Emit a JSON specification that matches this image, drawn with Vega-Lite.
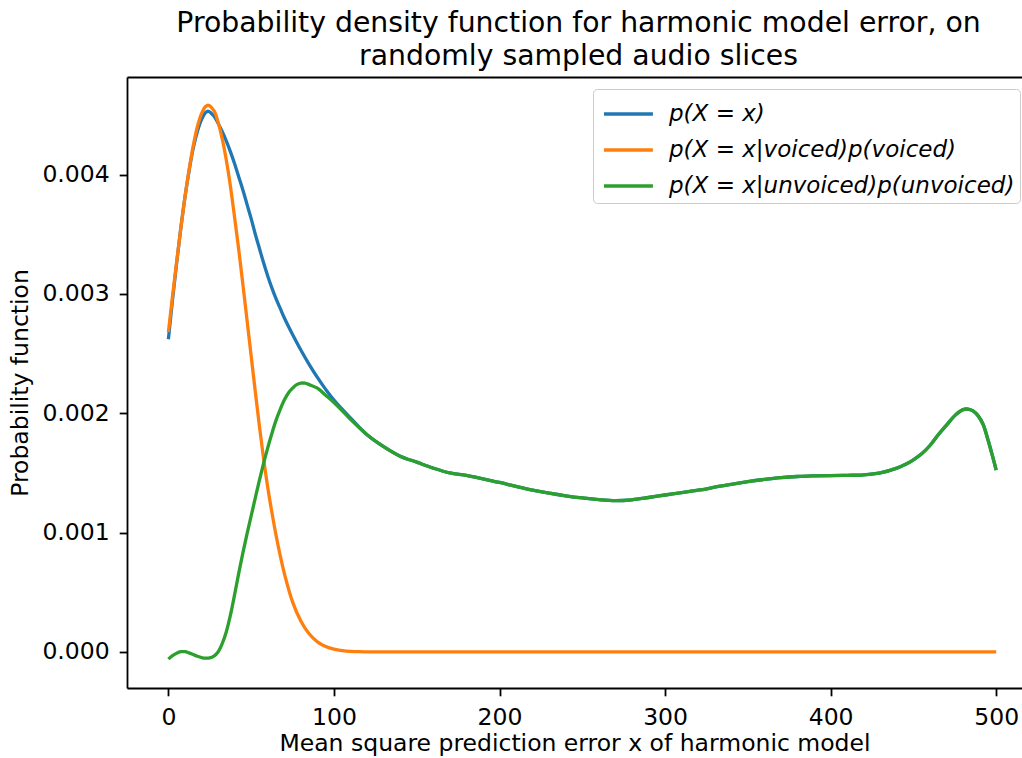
{
  "$schema": "https://vega.github.io/schema/vega-lite/v6.json",
  "width": 895,
  "height": 611,
  "autosize": {"type": "none"},
  "padding": {"left": 127, "top": 77, "right": 0, "bottom": 70},
  "background": "white",
  "config": {
    "view": {"stroke": null},
    "font": "DejaVu Sans",
    "axis": {
      "domainColor": "black", "domainWidth": 1.8, "tickColor": "black", "tickWidth": 1.8, "tickSize": 7.8,
      "labelFont": "DejaVu Sans", "labelFontSize": 23.5, "labelColor": "black", "labelPadding": 10,
      "titleFont": "DejaVu Sans", "titleFontSize": 23.5, "titleColor": "black", "titleFontWeight": "normal",
      "grid": false, "labelFlush": false
    }
  },
  "title": {
    "text": ["Probability density function for harmonic model error, on", "randomly sampled audio slices"],
    "font": "DejaVu Sans", "fontSize": 28.3, "fontWeight": "normal", "color": "black",
    "anchor": "middle", "lineHeight": 33, "offset": 6, "dx": 4
  },
  "datasets": {
    "curves": [
      {"s": "p(X = x)", "x": 0, "y": 0.00262},
      {"s": "p(X = x)", "x": 2.5, "y": 0.00295},
      {"s": "p(X = x)", "x": 5, "y": 0.00326},
      {"s": "p(X = x)", "x": 7.5, "y": 0.00355},
      {"s": "p(X = x)", "x": 10, "y": 0.00381},
      {"s": "p(X = x)", "x": 12.5, "y": 0.00403},
      {"s": "p(X = x)", "x": 15, "y": 0.00422},
      {"s": "p(X = x)", "x": 17.5, "y": 0.00436},
      {"s": "p(X = x)", "x": 20, "y": 0.00446},
      {"s": "p(X = x)", "x": 22.5, "y": 0.00452},
      {"s": "p(X = x)", "x": 24.2, "y": 0.00453},
      {"s": "p(X = x)", "x": 27.5, "y": 0.00449},
      {"s": "p(X = x)", "x": 30, "y": 0.00443},
      {"s": "p(X = x)", "x": 32.5, "y": 0.00436},
      {"s": "p(X = x)", "x": 35, "y": 0.00428},
      {"s": "p(X = x)", "x": 37.5, "y": 0.00419},
      {"s": "p(X = x)", "x": 40, "y": 0.00409},
      {"s": "p(X = x)", "x": 42.5, "y": 0.00398},
      {"s": "p(X = x)", "x": 45, "y": 0.00387},
      {"s": "p(X = x)", "x": 47.5, "y": 0.00375},
      {"s": "p(X = x)", "x": 50, "y": 0.00363},
      {"s": "p(X = x)", "x": 52.5, "y": 0.0035},
      {"s": "p(X = x)", "x": 55, "y": 0.00338},
      {"s": "p(X = x)", "x": 57.5, "y": 0.00326},
      {"s": "p(X = x)", "x": 60, "y": 0.00315},
      {"s": "p(X = x)", "x": 62.5, "y": 0.00305},
      {"s": "p(X = x)", "x": 65, "y": 0.00296},
      {"s": "p(X = x)", "x": 67.5, "y": 0.00288},
      {"s": "p(X = x)", "x": 70, "y": 0.0028},
      {"s": "p(X = x)", "x": 75, "y": 0.00266},
      {"s": "p(X = x)", "x": 80, "y": 0.00253},
      {"s": "p(X = x)", "x": 85, "y": 0.00241},
      {"s": "p(X = x)", "x": 90, "y": 0.0023},
      {"s": "p(X = x)", "x": 95, "y": 0.0022},
      {"s": "p(X = x)", "x": 100, "y": 0.00211},
      {"s": "p(X = x)", "x": 110, "y": 0.00196},
      {"s": "p(X = x)", "x": 120, "y": 0.00182},
      {"s": "p(X = x)", "x": 130, "y": 0.00172},
      {"s": "p(X = x)", "x": 140, "y": 0.00164},
      {"s": "p(X = x)", "x": 150, "y": 0.00159},
      {"s": "p(X = x)", "x": 160, "y": 0.00154},
      {"s": "p(X = x)", "x": 170, "y": 0.0015},
      {"s": "p(X = x)", "x": 180, "y": 0.00148},
      {"s": "p(X = x)", "x": 190, "y": 0.00145},
      {"s": "p(X = x)", "x": 200, "y": 0.00142},
      {"s": "p(X = x)", "x": 210, "y": 0.001387},
      {"s": "p(X = x)", "x": 220, "y": 0.001356},
      {"s": "p(X = x)", "x": 230, "y": 0.00133},
      {"s": "p(X = x)", "x": 240, "y": 0.001308},
      {"s": "p(X = x)", "x": 250, "y": 0.00129},
      {"s": "p(X = x)", "x": 260, "y": 0.001276},
      {"s": "p(X = x)", "x": 270, "y": 0.001268},
      {"s": "p(X = x)", "x": 280, "y": 0.001275},
      {"s": "p(X = x)", "x": 290, "y": 0.001294},
      {"s": "p(X = x)", "x": 300, "y": 0.001315},
      {"s": "p(X = x)", "x": 310, "y": 0.001334},
      {"s": "p(X = x)", "x": 320, "y": 0.001355},
      {"s": "p(X = x)", "x": 330, "y": 0.00138},
      {"s": "p(X = x)", "x": 340, "y": 0.001405},
      {"s": "p(X = x)", "x": 350, "y": 0.001427},
      {"s": "p(X = x)", "x": 360, "y": 0.001445},
      {"s": "p(X = x)", "x": 370, "y": 0.00146},
      {"s": "p(X = x)", "x": 380, "y": 0.00147},
      {"s": "p(X = x)", "x": 390, "y": 0.001475},
      {"s": "p(X = x)", "x": 400, "y": 0.001478},
      {"s": "p(X = x)", "x": 410, "y": 0.00148},
      {"s": "p(X = x)", "x": 420, "y": 0.001484},
      {"s": "p(X = x)", "x": 430, "y": 0.0015},
      {"s": "p(X = x)", "x": 440, "y": 0.00154},
      {"s": "p(X = x)", "x": 445, "y": 0.00157},
      {"s": "p(X = x)", "x": 450, "y": 0.00161},
      {"s": "p(X = x)", "x": 455, "y": 0.00166},
      {"s": "p(X = x)", "x": 460, "y": 0.00173},
      {"s": "p(X = x)", "x": 465, "y": 0.00182},
      {"s": "p(X = x)", "x": 470, "y": 0.0019},
      {"s": "p(X = x)", "x": 475, "y": 0.00198},
      {"s": "p(X = x)", "x": 480, "y": 0.00203},
      {"s": "p(X = x)", "x": 483, "y": 0.002035},
      {"s": "p(X = x)", "x": 486, "y": 0.00202},
      {"s": "p(X = x)", "x": 489, "y": 0.00198},
      {"s": "p(X = x)", "x": 492, "y": 0.00191},
      {"s": "p(X = x)", "x": 495, "y": 0.00178},
      {"s": "p(X = x)", "x": 498, "y": 0.00163},
      {"s": "p(X = x)", "x": 500, "y": 0.001524},

      {"s": "p(X = x|voiced)p(voiced)", "x": 0, "y": 0.00268},
      {"s": "p(X = x|voiced)p(voiced)", "x": 2.5, "y": 0.00298},
      {"s": "p(X = x|voiced)p(voiced)", "x": 5, "y": 0.00327},
      {"s": "p(X = x|voiced)p(voiced)", "x": 7.5, "y": 0.00355},
      {"s": "p(X = x|voiced)p(voiced)", "x": 10, "y": 0.00381},
      {"s": "p(X = x|voiced)p(voiced)", "x": 12.5, "y": 0.00404},
      {"s": "p(X = x|voiced)p(voiced)", "x": 15, "y": 0.00424},
      {"s": "p(X = x|voiced)p(voiced)", "x": 17.5, "y": 0.0044},
      {"s": "p(X = x|voiced)p(voiced)", "x": 20, "y": 0.00451},
      {"s": "p(X = x|voiced)p(voiced)", "x": 22.5, "y": 0.00457},
      {"s": "p(X = x|voiced)p(voiced)", "x": 24.2, "y": 0.00458},
      {"s": "p(X = x|voiced)p(voiced)", "x": 27.5, "y": 0.004535},
      {"s": "p(X = x|voiced)p(voiced)", "x": 30, "y": 0.00444},
      {"s": "p(X = x|voiced)p(voiced)", "x": 32.5, "y": 0.0043},
      {"s": "p(X = x|voiced)p(voiced)", "x": 35, "y": 0.00412},
      {"s": "p(X = x|voiced)p(voiced)", "x": 37.5, "y": 0.0039},
      {"s": "p(X = x|voiced)p(voiced)", "x": 40, "y": 0.00364},
      {"s": "p(X = x|voiced)p(voiced)", "x": 42.5, "y": 0.00337},
      {"s": "p(X = x|voiced)p(voiced)", "x": 45, "y": 0.00308},
      {"s": "p(X = x|voiced)p(voiced)", "x": 47.5, "y": 0.00278},
      {"s": "p(X = x|voiced)p(voiced)", "x": 50, "y": 0.00248},
      {"s": "p(X = x|voiced)p(voiced)", "x": 52.5, "y": 0.00218},
      {"s": "p(X = x|voiced)p(voiced)", "x": 55, "y": 0.00189},
      {"s": "p(X = x|voiced)p(voiced)", "x": 57.5, "y": 0.00162},
      {"s": "p(X = x|voiced)p(voiced)", "x": 60, "y": 0.00138},
      {"s": "p(X = x|voiced)p(voiced)", "x": 62.5, "y": 0.00117},
      {"s": "p(X = x|voiced)p(voiced)", "x": 65, "y": 0.00098},
      {"s": "p(X = x|voiced)p(voiced)", "x": 67.5, "y": 0.00081},
      {"s": "p(X = x|voiced)p(voiced)", "x": 70, "y": 0.00066},
      {"s": "p(X = x|voiced)p(voiced)", "x": 75, "y": 0.00042},
      {"s": "p(X = x|voiced)p(voiced)", "x": 80, "y": 0.00026},
      {"s": "p(X = x|voiced)p(voiced)", "x": 85, "y": 0.000152},
      {"s": "p(X = x|voiced)p(voiced)", "x": 90, "y": 0.000085},
      {"s": "p(X = x|voiced)p(voiced)", "x": 95, "y": 0.000046},
      {"s": "p(X = x|voiced)p(voiced)", "x": 100, "y": 0.000024},
      {"s": "p(X = x|voiced)p(voiced)", "x": 105, "y": 0.000012},
      {"s": "p(X = x|voiced)p(voiced)", "x": 110, "y": 0.000005},
      {"s": "p(X = x|voiced)p(voiced)", "x": 115, "y": 0.000002},
      {"s": "p(X = x|voiced)p(voiced)", "x": 120, "y": 0.000001},
      {"s": "p(X = x|voiced)p(voiced)", "x": 130, "y": 0},
      {"s": "p(X = x|voiced)p(voiced)", "x": 140, "y": 0},
      {"s": "p(X = x|voiced)p(voiced)", "x": 150, "y": 0},
      {"s": "p(X = x|voiced)p(voiced)", "x": 175, "y": 0},
      {"s": "p(X = x|voiced)p(voiced)", "x": 200, "y": 0},
      {"s": "p(X = x|voiced)p(voiced)", "x": 250, "y": 0},
      {"s": "p(X = x|voiced)p(voiced)", "x": 300, "y": 0},
      {"s": "p(X = x|voiced)p(voiced)", "x": 350, "y": 0},
      {"s": "p(X = x|voiced)p(voiced)", "x": 400, "y": 0},
      {"s": "p(X = x|voiced)p(voiced)", "x": 450, "y": 0},
      {"s": "p(X = x|voiced)p(voiced)", "x": 500, "y": 0},

      {"s": "p(X = x|unvoiced)p(unvoiced)", "x": 0, "y": -0.00006},
      {"s": "p(X = x|unvoiced)p(unvoiced)", "x": 2.5, "y": -0.00003},
      {"s": "p(X = x|unvoiced)p(unvoiced)", "x": 5, "y": -0.00001},
      {"s": "p(X = x|unvoiced)p(unvoiced)", "x": 7.5, "y": 0.000002},
      {"s": "p(X = x|unvoiced)p(unvoiced)", "x": 10, "y": 0.000002},
      {"s": "p(X = x|unvoiced)p(unvoiced)", "x": 12.5, "y": -0.000008},
      {"s": "p(X = x|unvoiced)p(unvoiced)", "x": 15, "y": -0.000022},
      {"s": "p(X = x|unvoiced)p(unvoiced)", "x": 17.5, "y": -0.000036},
      {"s": "p(X = x|unvoiced)p(unvoiced)", "x": 20, "y": -0.000047},
      {"s": "p(X = x|unvoiced)p(unvoiced)", "x": 22.5, "y": -0.000052},
      {"s": "p(X = x|unvoiced)p(unvoiced)", "x": 25, "y": -0.00005},
      {"s": "p(X = x|unvoiced)p(unvoiced)", "x": 27.5, "y": -0.000035},
      {"s": "p(X = x|unvoiced)p(unvoiced)", "x": 30, "y": 0.0},
      {"s": "p(X = x|unvoiced)p(unvoiced)", "x": 32.5, "y": 0.00007},
      {"s": "p(X = x|unvoiced)p(unvoiced)", "x": 35, "y": 0.00017},
      {"s": "p(X = x|unvoiced)p(unvoiced)", "x": 37.5, "y": 0.00031},
      {"s": "p(X = x|unvoiced)p(unvoiced)", "x": 40, "y": 0.00048},
      {"s": "p(X = x|unvoiced)p(unvoiced)", "x": 42.5, "y": 0.00066},
      {"s": "p(X = x|unvoiced)p(unvoiced)", "x": 45, "y": 0.00083},
      {"s": "p(X = x|unvoiced)p(unvoiced)", "x": 47.5, "y": 0.00099},
      {"s": "p(X = x|unvoiced)p(unvoiced)", "x": 50, "y": 0.00114},
      {"s": "p(X = x|unvoiced)p(unvoiced)", "x": 52.5, "y": 0.00129},
      {"s": "p(X = x|unvoiced)p(unvoiced)", "x": 55, "y": 0.00144},
      {"s": "p(X = x|unvoiced)p(unvoiced)", "x": 57.5, "y": 0.00158},
      {"s": "p(X = x|unvoiced)p(unvoiced)", "x": 60, "y": 0.00171},
      {"s": "p(X = x|unvoiced)p(unvoiced)", "x": 62.5, "y": 0.00183},
      {"s": "p(X = x|unvoiced)p(unvoiced)", "x": 65, "y": 0.00194},
      {"s": "p(X = x|unvoiced)p(unvoiced)", "x": 67.5, "y": 0.00203},
      {"s": "p(X = x|unvoiced)p(unvoiced)", "x": 70, "y": 0.00211},
      {"s": "p(X = x|unvoiced)p(unvoiced)", "x": 72.5, "y": 0.00217},
      {"s": "p(X = x|unvoiced)p(unvoiced)", "x": 75, "y": 0.00221},
      {"s": "p(X = x|unvoiced)p(unvoiced)", "x": 77.5, "y": 0.00224},
      {"s": "p(X = x|unvoiced)p(unvoiced)", "x": 80, "y": 0.002252},
      {"s": "p(X = x|unvoiced)p(unvoiced)", "x": 82.5, "y": 0.002252},
      {"s": "p(X = x|unvoiced)p(unvoiced)", "x": 85, "y": 0.00224},
      {"s": "p(X = x|unvoiced)p(unvoiced)", "x": 90, "y": 0.00221},
      {"s": "p(X = x|unvoiced)p(unvoiced)", "x": 95, "y": 0.00215},
      {"s": "p(X = x|unvoiced)p(unvoiced)", "x": 100, "y": 0.00209},
      {"s": "p(X = x|unvoiced)p(unvoiced)", "x": 110, "y": 0.00195},
      {"s": "p(X = x|unvoiced)p(unvoiced)", "x": 120, "y": 0.00182},
      {"s": "p(X = x|unvoiced)p(unvoiced)", "x": 130, "y": 0.00172},
      {"s": "p(X = x|unvoiced)p(unvoiced)", "x": 140, "y": 0.00164},
      {"s": "p(X = x|unvoiced)p(unvoiced)", "x": 150, "y": 0.00159},
      {"s": "p(X = x|unvoiced)p(unvoiced)", "x": 160, "y": 0.00154},
      {"s": "p(X = x|unvoiced)p(unvoiced)", "x": 170, "y": 0.0015},
      {"s": "p(X = x|unvoiced)p(unvoiced)", "x": 180, "y": 0.00148},
      {"s": "p(X = x|unvoiced)p(unvoiced)", "x": 190, "y": 0.00145},
      {"s": "p(X = x|unvoiced)p(unvoiced)", "x": 200, "y": 0.00142},
      {"s": "p(X = x|unvoiced)p(unvoiced)", "x": 210, "y": 0.001387},
      {"s": "p(X = x|unvoiced)p(unvoiced)", "x": 220, "y": 0.001356},
      {"s": "p(X = x|unvoiced)p(unvoiced)", "x": 230, "y": 0.00133},
      {"s": "p(X = x|unvoiced)p(unvoiced)", "x": 240, "y": 0.001308},
      {"s": "p(X = x|unvoiced)p(unvoiced)", "x": 250, "y": 0.00129},
      {"s": "p(X = x|unvoiced)p(unvoiced)", "x": 260, "y": 0.001276},
      {"s": "p(X = x|unvoiced)p(unvoiced)", "x": 270, "y": 0.001268},
      {"s": "p(X = x|unvoiced)p(unvoiced)", "x": 280, "y": 0.001275},
      {"s": "p(X = x|unvoiced)p(unvoiced)", "x": 290, "y": 0.001294},
      {"s": "p(X = x|unvoiced)p(unvoiced)", "x": 300, "y": 0.001315},
      {"s": "p(X = x|unvoiced)p(unvoiced)", "x": 310, "y": 0.001334},
      {"s": "p(X = x|unvoiced)p(unvoiced)", "x": 320, "y": 0.001355},
      {"s": "p(X = x|unvoiced)p(unvoiced)", "x": 330, "y": 0.00138},
      {"s": "p(X = x|unvoiced)p(unvoiced)", "x": 340, "y": 0.001405},
      {"s": "p(X = x|unvoiced)p(unvoiced)", "x": 350, "y": 0.001427},
      {"s": "p(X = x|unvoiced)p(unvoiced)", "x": 360, "y": 0.001445},
      {"s": "p(X = x|unvoiced)p(unvoiced)", "x": 370, "y": 0.00146},
      {"s": "p(X = x|unvoiced)p(unvoiced)", "x": 380, "y": 0.00147},
      {"s": "p(X = x|unvoiced)p(unvoiced)", "x": 390, "y": 0.001475},
      {"s": "p(X = x|unvoiced)p(unvoiced)", "x": 400, "y": 0.001478},
      {"s": "p(X = x|unvoiced)p(unvoiced)", "x": 410, "y": 0.00148},
      {"s": "p(X = x|unvoiced)p(unvoiced)", "x": 420, "y": 0.001484},
      {"s": "p(X = x|unvoiced)p(unvoiced)", "x": 430, "y": 0.0015},
      {"s": "p(X = x|unvoiced)p(unvoiced)", "x": 440, "y": 0.00154},
      {"s": "p(X = x|unvoiced)p(unvoiced)", "x": 445, "y": 0.00157},
      {"s": "p(X = x|unvoiced)p(unvoiced)", "x": 450, "y": 0.00161},
      {"s": "p(X = x|unvoiced)p(unvoiced)", "x": 455, "y": 0.00166},
      {"s": "p(X = x|unvoiced)p(unvoiced)", "x": 460, "y": 0.00173},
      {"s": "p(X = x|unvoiced)p(unvoiced)", "x": 465, "y": 0.00182},
      {"s": "p(X = x|unvoiced)p(unvoiced)", "x": 470, "y": 0.0019},
      {"s": "p(X = x|unvoiced)p(unvoiced)", "x": 475, "y": 0.00198},
      {"s": "p(X = x|unvoiced)p(unvoiced)", "x": 480, "y": 0.00203},
      {"s": "p(X = x|unvoiced)p(unvoiced)", "x": 483, "y": 0.002035},
      {"s": "p(X = x|unvoiced)p(unvoiced)", "x": 486, "y": 0.00202},
      {"s": "p(X = x|unvoiced)p(unvoiced)", "x": 489, "y": 0.00198},
      {"s": "p(X = x|unvoiced)p(unvoiced)", "x": 492, "y": 0.00191},
      {"s": "p(X = x|unvoiced)p(unvoiced)", "x": 495, "y": 0.00178},
      {"s": "p(X = x|unvoiced)p(unvoiced)", "x": 498, "y": 0.00163},
      {"s": "p(X = x|unvoiced)p(unvoiced)", "x": 500, "y": 0.001524}
    ],
    "spine": [{"x": 0}]
  },
  "layer": [
    {
      "data": {"name": "curves"},
      "mark": {"type": "line", "strokeWidth": 3.3, "interpolate": "catmull-rom"},
      "encoding": {
        "x": {
          "field": "x", "type": "quantitative",
          "scale": {"domain": [-25, 515.6], "nice": false, "zero": false},
          "axis": {"values": [0, 100, 200, 300, 400, 500], "title": "Mean square prediction error x of harmonic model", "titlePadding": 2}
        },
        "y": {
          "field": "y", "type": "quantitative",
          "scale": {"domain": [-0.000302, 0.004817], "nice": false, "zero": false},
          "axis": {"values": [0, 0.001, 0.002, 0.003, 0.004], "format": ".3f", "title": "Probability function", "titlePadding": 9}
        },
        "color": {
          "field": "s", "type": "nominal",
          "scale": {
            "domain": ["p(X = x)", "p(X = x|voiced)p(voiced)", "p(X = x|unvoiced)p(unvoiced)"],
            "range": ["#1f77b4", "#ff7f0e", "#2ca02c"]
          },
          "legend": {
            "orient": "none", "legendX": 466, "legendY": 12, "title": null,
            "symbolType": "M-0.78,0H1.94", "symbolSize": 1296, "symbolStrokeWidth": 3.3,
            "labelFont": "DejaVu Sans", "labelFontSize": 23, "labelFontStyle": "italic", "labelColor": "black",
            "labelOffset": 31, "labelLimit": 600,
            "padding": 5, "rowPadding": 4, "strokeColor": "#cccccc", "fillColor": "white", "cornerRadius": 4
          }
        }
      }
    },
    {
      "data": {"name": "spine"},
      "mark": {"type": "rule", "opacity": 0},
      "encoding": {
        "x": {
          "field": "x", "type": "quantitative",
          "axis": {"orient": "top", "labels": false, "ticks": false, "title": null, "domainColor": "black", "domainWidth": 1.8}
        }
      }
    }
  ],
  "resolve": {"axis": {"x": "independent"}}
}
